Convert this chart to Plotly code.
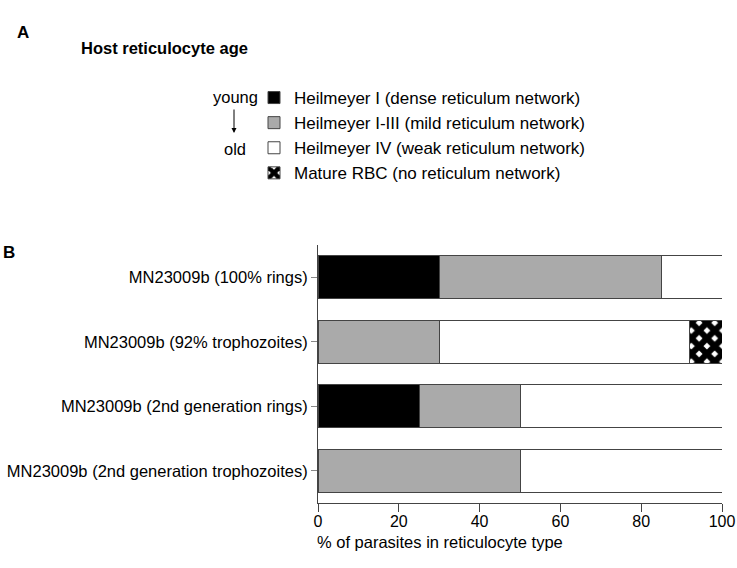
"""Stacked horizontal bars: host reticulocyte age of MN23009b parasites."""

import plotly.graph_objects as go

FONT = "Arial, Liberation Sans, sans-serif"

# ---- data ----
samples = [
    "MN23009b (100% rings)",
    "MN23009b (92% trophozoites)",
    "MN23009b (2nd generation rings)",
    "MN23009b (2nd generation trophozoites)",
]
heilmeyer_i = [30, None, 25, None]
heilmeyer_i_iii = [55, 30, 25, 50]
heilmeyer_iv = [15, 62, 50, 50]
mature_rbc = [None, 8, None, None]

series = [
    ("Heilmeyer I (dense reticulum network)", heilmeyer_i, "#000000", None),
    ("Heilmeyer I-III (mild reticulum network)", heilmeyer_i_iii, "#aaaaaa", None),
    ("Heilmeyer IV (weak reticulum network)", heilmeyer_iv, "#ffffff", None),
    ("Mature RBC (no reticulum network)", mature_rbc, "#ffffff",
     dict(shape="x", fgcolor="#000000", bgcolor="#ffffff", fgopacity=1,
          size=11, solidity=0.8)),
]

x_ticks = [0, 20, 40, 60, 80, 100]

# ---- geometry (pixel -> paper helpers) ----
W, H = 737, 568
L, R, T, B = 318, 15, 245, 65
PW, PH = W - L - R, H - T - B


def px(x):
    return (x - L) / PW


def py(y):
    return (H - B - y) / PH


fig = go.Figure()
for i, (name, vals, color, pattern) in enumerate(series):
    marker = dict(color=color, line=dict(color="#444444", width=1))
    if pattern:
        marker["pattern"] = pattern
    fig.add_trace(go.Bar(
        y=samples, x=vals, name=name, orientation="h",
        marker=marker, legendgroup=f"g{i}",
        hoverinfo="x+name",
    ))

fig.update_layout(
    width=W, height=H,
    barmode="stack", bargap=0.34,
    plot_bgcolor="white", paper_bgcolor="white",
    margin=dict(l=L, r=R, t=T, b=B, autoexpand=False),
    font=dict(family=FONT, size=16.5, color="#000000"),
    legend=dict(
        x=px(254), y=py(80), xanchor="left", yanchor="top",
        font=dict(size=17), traceorder="grouped", tracegroupgap=0,
        bgcolor="rgba(0,0,0,0)", itemclick=False, itemdoubleclick=False,
    ),
    showlegend=True,
)

fig.update_xaxes(
    range=[0, 100], tickvals=x_ticks, showgrid=False, zeroline=False,
    showline=True, linecolor="#444444", linewidth=1,
    ticks="outside", ticklen=8, tickcolor="#444444",
    tickfont=dict(size=16), ticklabelstandoff=-4, fixedrange=True,
)
fig.update_yaxes(
    autorange="reversed", showgrid=False, zeroline=False,
    showline=True, linecolor="#444444", linewidth=1,
    ticks="outside", ticklen=6, tickcolor="#888888",
    tickfont=dict(size=16.5), fixedrange=True,
)

ann = dict(xref="paper", yref="paper", showarrow=False, font=dict(family=FONT, size=16.5))
big = dict(family=FONT, size=17)
fig.add_annotation(text="<b>A</b>", x=px(15), y=py(32), xanchor="left", yanchor="middle",
                   **{**ann, "font": big})
fig.add_annotation(text="<b>B</b>", x=px(1), y=py(252), xanchor="left", yanchor="middle",
                   **{**ann, "font": big})
fig.add_annotation(text="<b>Host reticulocyte age</b>", x=px(79), y=py(48),
                   xanchor="left", yanchor="middle", **ann)
fig.add_annotation(text="young", x=px(235), y=py(97), xanchor="center", yanchor="middle", **ann)
fig.add_annotation(text="old", x=px(235), y=py(149), xanchor="center", yanchor="middle", **ann)
fig.add_annotation(
    text="", x=px(234), y=py(133), ax=0, ay=-25, xref="paper", yref="paper",
    showarrow=True, arrowhead=2, arrowsize=1, arrowwidth=1, arrowcolor="#000000",
)
fig.add_annotation(text="% of parasites in reticulocyte type", x=px(315), y=py(542),
                   xanchor="left", yanchor="middle", **ann)

# the page body has a default 8px margin; drop it so the figure sits at (0, 0)
fig.write_html(
    "out.html",
    config={"displayModeBar": False},
    post_script="document.body.style.margin='0';",
)
